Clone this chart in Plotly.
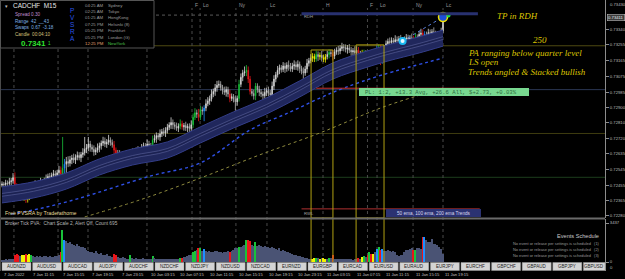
import plotly.graph_objects as go

W, H = 625, 279
SANS = "Liberation Sans, Arial, sans-serif"
SERIF = "Liberation Serif, Times New Roman, serif"
MONO = "Liberation Mono, Courier New, monospace"

# ------------------------------------------------------------------ data
PT = 1e5  # prices are stored in points (1 point = 0.00001)
first_open = 72455
close_pts = [
    72462, 72458, 72468, 72464, 72475, 72480, 72498, 72452, 72418, 72395,
    72385, 72398, 72388, 72372, 72392, 72405, 72432, 72445, 72458, 72450,
    72466, 72475, 72464, 72480, 72490, 72505, 72498, 72512, 72520, 72510,
    72526, 72540, 72518, 72552, 72575, 72590, 72580, 72600, 72610, 72598,
    72615, 72625, 72612, 72630, 72640, 72660, 72668, 72690, 72672, 72660,
    72645, 72655, 72668, 72680, 72695, 72705, 72690, 72700, 72712, 72698,
    72685, 72655, 72638, 72630, 72618, 72625, 72605, 72590, 72612, 72620,
    72640, 72628, 72645, 72652, 72640, 72655, 72668, 72680, 72672, 72690,
    72680, 72675, 72712, 72722, 72738, 72730, 72748, 72760, 72752, 72768,
    72785, 72798, 72812, 72800, 72790, 72780, 72792, 72805, 72788, 72795,
    72782, 72790, 72778, 72800, 72842, 72868, 72860, 72845, 72885, 72878,
    72895, 72920, 72935, 72948, 72975, 72990, 73010, 73025, 73030, 73012,
    72995, 72985, 73000, 72975, 72950, 72960, 72945, 72930, 72950, 73030,
    73070, 73095, 73102, 73110, 73060, 72990, 72978, 72965, 73020, 73000,
    72985, 72975, 72965, 72985, 72995, 72980, 72970, 73020, 73060, 73085,
    73110, 73125, 73115, 73135, 73120, 73140, 73130, 73118, 73135, 73142,
    73130, 73145, 73120, 73105, 73095, 73118, 73150, 73165, 73180, 73190,
    73175, 73200, 73188, 73196, 73182, 73172, 73188, 73200, 73212, 73205,
    73192, 73215, 73225, 73220, 73235, 73245, 73240, 73230, 73238, 73225,
    73215, 73222, 73210, 73225, 73200, 73205, 73190, 73210, 73195, 73160,
    73190, 73165, 73180, 73195, 73225, 73235, 73170, 73200, 73232, 73262,
    73275, 73268, 73280, 73272, 73285, 73278, 73290, 73282, 73275, 73288,
    73295, 73288, 73295, 73290, 73270, 73300, 73298, 73315, 73322, 73285,
    73315, 73310, 73325, 73315, 73330, 73318, 73305, 73312, 73300, 73335,
    73411,
]
wick_up = [
    15, 12, 18, 14, 22, 16, 26, 30, 14, 18, 12, 22, 16, 12, 18, 22, 15, 18, 25, 12,
    16, 22, 15, 18, 26, 16, 20, 15, 22, 18, 16, 25, 22, 178, 30, 26, 30, 22, 18, 25,
    16, 22, 18, 15, 26, 70, 22, 40, 18, 15, 22, 16, 25, 18, 15, 26, 22, 18, 30, 16,
    18, 22, 15, 18, 25, 16, 20, 15, 22, 18, 16, 25, 15, 18, 26, 16, 22, 18, 15, 25,
    18, 16, 26, 22, 18, 15, 25, 16, 22, 18, 20, 16, 30, 18, 15, 22, 16, 25, 18, 15,
    22, 16, 18, 25, 22, 26, 18, 30, 22, 18, 16, 25, 22, 18, 26, 16, 22, 25, 22, 18,
    15, 22, 18, 16, 25, 18, 15, 22, 16, 26, 22, 18, 30, 30, 22, 18, 15, 22, 18, 16,
    22, 18, 15, 25, 16, 22, 18, 26, 22, 16, 25, 18, 15, 22, 18, 16, 26, 22, 18, 25,
    18, 22, 15, 16, 22, 18, 25, 16, 22, 18, 15, 22, 18, 16, 25, 18, 15, 22, 18, 16,
    22, 18, 16, 25, 18, 22, 15, 18, 16, 22, 18, 15, 25, 22, 18, 16, 22, 18, 15, 25,
    18, 22, 16, 18, 26, 22, 18, 25, 22, 18, 16, 22, 18, 15, 25, 18, 16, 22, 18, 15,
    22, 18, 16, 25, 18, 22, 15, 18, 25, 22, 18, 16, 22, 18, 15, 25, 18, 22, 16, 18,
    14,
]
wick_dn = [
    12, 16, 12, 18, 15, 22, 16, 18, 25, 22, 18, 15, 22, 18, 16, 22, 15, 18, 16, 22,
    18, 15, 22, 16, 18, 25, 15, 22, 18, 16, 22, 18, 25, 22, 30, 90, 22, 18, 25, 16,
    22, 18, 15, 25, 18, 16, 22, 18, 26, 16, 22, 18, 15, 25, 22, 16, 18, 22, 15, 18,
    16, 22, 18, 25, 22, 16, 18, 30, 22, 16, 18, 25, 15, 22, 18, 16, 22, 15, 18, 25,
    50, 22, 18, 15, 25, 16, 22, 18, 15, 22, 18, 16, 22, 25, 18, 15, 22, 18, 16, 22,
    18, 25, 22, 16, 18, 15, 22, 25, 18, 22, 58, 18, 15, 22, 16, 18, 25, 22, 15, 18,
    22, 16, 25, 18, 22, 15, 18, 50, 22, 18, 16, 22, 18, 25, 22, 18, 16, 22, 25, 18,
    22, 18, 35, 16, 22, 18, 25, 15, 22, 18, 16, 22, 18, 15, 25, 18, 22, 16, 18, 22,
    18, 22, 25, 18, 55, 16, 22, 18, 15, 22, 18, 16, 25, 18, 22, 15, 18, 16, 22, 18,
    25, 18, 16, 22, 18, 15, 22, 18, 25, 16, 22, 18, 15, 22, 18, 25, 16, 22, 18, 26,
    22, 18, 16, 25, 22, 18, 30, 22, 18, 16, 22, 18, 15, 25, 18, 22, 16, 18, 22, 15,
    18, 22, 16, 25, 22, 18, 15, 22, 18, 25, 16, 22, 18, 15, 22, 18, 25, 16, 22, 18,
    12,
]
volume = [
    220, 180, 250, 200, 260, 240, 300, 620, 700, 650, 520, 600, 640, 700, 620, 680, 600, 520, 480, 500,
    460, 520, 480, 540, 500, 470, 520, 480, 450, 500, 540, 580, 900, 2800, 1950, 1850, 1700, 1750, 1600, 1500,
    1450, 1550, 1400, 1300, 1350, 1200, 1100, 1000, 900, 850, 800, 950, 750, 700, 780, 650, 600, 680, 550, 520,
    480, 720, 650, 420, 380, 350, 400, 330, 300, 280, 600, 320, 300, 350, 280, 260, 300, 320, 280, 250,
    300, 270, 500, 320, 300, 280, 260, 300, 280, 250, 270, 300, 280, 260, 240, 280, 260, 350, 320, 400,
    450, 500, 600, 650, 900, 1000, 1100, 1250, 1250, 1000, 1150, 950, 900, 1000, 850, 900, 950, 1000, 900, 850,
    800, 900, 850, 950, 900, 1000, 1100, 1200, 1250, 1350, 1300, 1450, 1500, 1950, 1900, 1850, 1500, 1400, 1750, 1450,
    1500, 1400, 1350, 1450, 1300, 1350, 1250, 1300, 1200, 1150, 1100, 1200, 1000, 1050, 950, 900, 850, 800, 700, 650,
    600, 550, 500, 450, 400, 380, 350, 300, 280, 300, 320, 350, 330, 300, 340, 320, 300, 280, 380, 320,
    620, 300, 280, 250, 260, 240, 280, 250, 230, 260, 240, 220, 250, 250, 350, 300, 400, 550, 400, 600,
    880, 700, 700, 900, 1150, 1300, 1050, 1150, 1000, 950, 1050, 1000, 900, 950, 850, 600, 550, 580, 600, 900,
    1050, 1100, 1150, 1200, 1100, 1100, 1200, 1250, 1150, 2200, 2200, 1900, 1760, 1800, 2050, 1600, 1550, 1470, 1300, 1170,
    730,
]
red_bars = [7, 8, 9, 13, 32, 61, 62, 98, 107, 124, 134, 135, 180, 194, 199, 201, 206, 224, 229]
green_bars = [16, 33, 70, 82, 97, 104, 105, 108, 129, 133, 138, 171, 178, 197, 200, 205, 225]
blue_bars = [34, 110, 204, 207, 230]
yellow_bars = [11, 12, 14, 15, 169, 170, 173, 175, 176, 196, 202]

ema50_bars = [0, 17, 35, 53, 71, 90, 108, 126, 144, 162, 180, 199, 210, 227, 240]
ema50_mid = [72400, 72428, 72479, 72559, 72616, 72656, 72742, 72827, 72907, 73004, 73106, 73175, 73209, 73255, 73294]
ema50_upper = [72446, 72474, 72525, 72605, 72662, 72702, 72788, 72873, 72953, 73050, 73152, 73221, 73255, 73301, 73340]
ema50_lower = [72354, 72382, 72433, 72513, 72570, 72610, 72696, 72781, 72861, 72958, 73060, 73129, 73163, 73209, 73248]
ema100_bars = [5, 22, 41, 81, 108, 135, 157, 173, 186, 207, 240]
ema100 = [72290, 72325, 72377, 72508, 72582, 72770, 72873, 72952, 73009, 73084, 73180]
ema200_bars = [45, 75, 108, 140, 173, 206, 231, 240]
ema200 = [72274, 72371, 72496, 72627, 72753, 72895, 72981, 73009]

quarter_levels = [0.7325, 0.7300, 0.7275, 0.7250]
prev_high_level = 0.73425
rdh_level = 0.73432
pl_level = 0.73008
rwl_level = 0.72320
box_bars = [(168.2, 180.1), (192.7, 207.9)]
box_tops = [0.73226, 0.73255]
signal_bars = [218, 240, 243]
signal_prices = [0.73277, 0.73414, 0.73422]

price_ticks = [0.73340, 0.73255, 0.73165, 0.73075, 0.72985, 0.72900, 0.72810,
               0.72720, 0.72635, 0.72545, 0.72455, 0.72365, 0.72280]
current_price = 0.73411
vol_max_label = 3437
time_label_bars = list(range(0, 241, 16))
time_labels = ["7 Jan 2022", "7 Jan 11:15", "7 Jan 15:15", "7 Jan 19:15", "7 Jan 23:15",
               "10 Jan 03:15", "10 Jan 07:15", "10 Jan 11:15", "10 Jan 15:15", "10 Jan 19:15",
               "10 Jan 23:15", "11 Jan 03:15", "11 Jan 07:15", "11 Jan 11:15", "11 Jan 15:15",
               "11 Jan 19:15"]
session_bars = [6.5, 30.5, 46.8, 78.9, 103.4, 107.8, 127.3, 144.2, 174.7, 198.9, 204.1, 223.7, 240.0]
session_names = ["", "", "", "", "F", "Lo", "Ny", "Lc", "H", "F", "Lo", "Ny", "Lc"]
pairs = ["AUDNZD", "AUDUSD", "AUDCAD", "AUDJPY", "AUDCHF", "NZDCHF", "NZDJPY", "NZDUSD",
         "NZDCAD", "EURNZD", "EURGBP", "EURCAD", "EURUSD", "EURAUD", "EURJPY", "EURCHF",
         "GBPCHF", "GBPAUD", "GBPJPY", "GBPUSD"]
clock_times = ["04:25 AM", "02:25 AM", "01:25 AM", "07:25 PM", "05:25 PM", "05:25 PM", "12:25 PM"]
clock_cities = ["Sydney", "Tokyo", "HongKong", "Helsinki (8)", "Frankfurt", "London (G)", "NewYork"]

# ------------------------------------------------------------------ helpers
def P(x):
    return x / W


def Q(y):
    return 1 - y / H


X_RANGE = [-1.0884, 328.16]
Y_RANGE = [0.72268, 0.73511]
V_RANGE = [-793, 3790]
PLOT_R = 605 / W

n = len(close_pts)
bars = list(range(n))
opens = [first_open] + close_pts[:-1]
highs = [max(o, c) + u for o, c, u in zip(opens, close_pts, wick_up)]
lows = [min(o, c) - d for o, c, d in zip(opens, close_pts, wick_dn)]
cat = ['n'] * n
for lst, code in ((red_bars, 'r'), (green_bars, 'g'), (blue_bars, 'b'), (yellow_bars, 'y')):
    for i in lst:
        cat[i] = code
PV_COL = {'r': '#e8161b', 'g': '#19c23a', 'b': '#1f8fff', 'y': '#f2f200'}
VOL_DEFAULT = '#4a5374'

fig = go.Figure()

# EMA 50 band
fig.add_trace(go.Scatter(x=ema50_bars, y=[v / PT for v in ema50_upper], mode='lines',
                         line=dict(color='#333d88', width=1, shape='spline'),
                         hoverinfo='skip', showlegend=False))
fig.add_trace(go.Scatter(x=ema50_bars, y=[v / PT for v in ema50_lower], mode='lines',
                         line=dict(color='#333d88', width=1, shape='spline'),
                         fill='tonexty', fillcolor='#20275c', hoverinfo='skip', showlegend=False))
for off, col in ((8, '#5a6298'), (-8, '#5a6298'), (0, '#181d46')):
    fig.add_trace(go.Scatter(x=ema50_bars, y=[(v + off) / PT for v in ema50_mid], mode='lines',
                             line=dict(color=col, width=0.6, shape='spline'),
                             hoverinfo='skip', showlegend=False))
# EMA 100 / 200 dotted
fig.add_trace(go.Scatter(x=ema100_bars, y=[v / PT for v in ema100], mode='lines',
                         line=dict(color='#2f50e6', width=1.4, dash='dot', shape='spline'),
                         hoverinfo='skip', showlegend=False))
fig.add_trace(go.Scatter(x=ema200_bars, y=[v / PT for v in ema200], mode='lines',
                         line=dict(color='#8e8a3e', width=1, dash='dot', shape='spline'),
                         hoverinfo='skip', showlegend=False))

# candles
def candle_trace(code, inc_line, inc_fill, dec_line, dec_fill):
    idx = [i for i in bars if cat[i] == code]
    return go.Candlestick(
        x=idx, open=[opens[i] / PT for i in idx], high=[highs[i] / PT for i in idx],
        low=[lows[i] / PT for i in idx], close=[close_pts[i] / PT for i in idx],
        increasing=dict(line=dict(color=inc_line, width=0.8), fillcolor=inc_fill),
        decreasing=dict(line=dict(color=dec_line, width=0.8), fillcolor=dec_fill),
        whiskerwidth=0, hoverinfo='skip', showlegend=False)


fig.add_trace(candle_trace('n', '#dadada', '#c8c8c8', '#b4b4b4', '#6a6a6a'))
for code, col in PV_COL.items():
    fig.add_trace(candle_trace(code, col, col, col, col))

# signals
fig.add_trace(go.Scatter(x=signal_bars[:2], y=signal_prices[:2], mode='lines',
                         line=dict(color='#5a80d8', width=1, dash='dot'),
                         hoverinfo='skip', showlegend=False))
fig.add_trace(go.Scatter(x=[signal_bars[0]], y=[signal_prices[0]], mode='markers',
                         marker=dict(size=6, color='#e8f8ff', line=dict(color='#18b8f0', width=2)),
                         hoverinfo='skip', showlegend=False))
fig.add_trace(go.Scatter(x=[signal_bars[1]], y=[signal_prices[1]], mode='markers',
                         marker=dict(size=9, color='#1d4ed8', line=dict(color='#f0e000', width=1.5)),
                         hoverinfo='skip', showlegend=False))
fig.add_trace(go.Scatter(x=[signal_bars[2]], y=[signal_prices[2]], mode='markers',
                         marker=dict(size=4, color='#22dd44'),
                         hoverinfo='skip', showlegend=False))

# volume
fig.add_trace(go.Bar(x=bars, y=volume, xaxis='x2', yaxis='y2', width=0.72,
                     marker=dict(color=[PV_COL.get(c, VOL_DEFAULT) for c in cat], line=dict(width=0)),
                     hoverinfo='skip', showlegend=False))

# ------------------------------------------------------------------ shapes
shapes = []
q_cols = ['#4e4a12', '#2a3552', '#3e3c10', '#1c3c1c']
for lvl, col in zip(quarter_levels, q_cols):
    shapes.append(dict(type='line', xref='paper', yref='y', x0=0, x1=PLOT_R, y0=lvl, y1=lvl,
                       line=dict(color=col, width=1), layer='below'))
shapes.append(dict(type='line', xref='x', yref='y', x0=X_RANGE[0], x1=163, y0=prev_high_level,
                   y1=prev_high_level, line=dict(color='#5a5a5a', width=1, dash='dot'), layer='below'))
shapes.append(dict(type='line', xref='x', yref='y', x0=163, x1=259, y0=rdh_level, y1=rdh_level,
                   line=dict(color='#283170', width=3)))
shapes.append(dict(type='line', xref='x', yref='y', x0=171, x1=260, y0=pl_level, y1=pl_level,
                   line=dict(color='#cc3333', width=1)))
shapes.append(dict(type='line', xref='x', yref='y', x0=163, x1=260, y0=rwl_level, y1=rwl_level,
                   line=dict(color='#b03030', width=1)))
for (b0, b1), top in zip(box_bars, box_tops):
    shapes.append(dict(type='rect', xref='x', yref='y', x0=b0, x1=b1, y0=Y_RANGE[0], y1=top,
                       line=dict(color='#b0a012', width=1)))
    for bx in (b0, b1):
        shapes.append(dict(type='line', xref='x2', yref='y2', x0=bx, x1=bx, y0=0, y1=V_RANGE[1],
                           line=dict(color='#b0a012', width=1)))
for sb in session_bars:
    shapes.append(dict(type='line', xref='x', yref='paper', x0=sb, x1=sb, y0=Q(262), y1=Q(8),
                       line=dict(color='#4a4a4a', width=1, dash='dot'), layer='below'))
# separator between panes and left frame
shapes.append(dict(type='line', xref='paper', yref='paper', x0=0, x1=PLOT_R, y0=Q(218.5), y1=Q(218.5),
                   line=dict(color='#6a6a6a', width=2)))
shapes.append(dict(type='line', xref='paper', yref='paper', x0=P(0.5), x1=P(0.5), y0=Q(271), y1=1,
                   line=dict(color='#4a4a4a', width=1)))
# info panel
shapes.append(dict(type='rect', xref='paper', yref='paper', x0=P(0.5), x1=P(154), y0=Q(48), y1=Q(0.5),
                   fillcolor='#000000', line=dict(color='#555555', width=1)))
# labels boxes
shapes.append(dict(type='rect', xref='paper', yref='paper', x0=P(359), x1=P(529), y0=Q(96), y1=Q(88),
                   fillcolor='#78d890', line=dict(width=0)))
shapes.append(dict(type='rect', xref='paper', yref='paper', x0=P(386), x1=P(481), y0=Q(217), y1=Q(209),
                   fillcolor='#2b3272', line=dict(width=0)))
# pair buttons
for i, name in enumerate(pairs):
    x0 = 2 + 30.6 * i
    x1 = min(x0 + 29, 605)
    shapes.append(dict(type='rect', xref='paper', yref='paper', x0=P(x0), x1=P(x1), y0=Q(270.5), y1=Q(262.5),
                       fillcolor='#d4d4d4', line=dict(color='#9a9a9a', width=0.5)))

# ------------------------------------------------------------------ annotations
ann = []


def txt(x, y, s, size, color, anchor='left', family=SANS, **kw):
    ann.append(dict(x=P(x), y=Q(y), xref='paper', yref='paper', text=s, showarrow=False,
                    xanchor=anchor, yanchor='middle', font=dict(size=size, color=color, family=family),
                    **kw))


# info panel contents
txt(3, 6, '▾', 5, '#c0c0c0')
txt(11, 6, 'CADCHF  M15', 6.5, '#e6e6e6')
txt(13, 15, 'Spread 0.30', 4.6, '#c08fd0')
txt(13, 21.5, 'Range  42  __43', 4.6, '#7fb0e6')
txt(13, 27.5, 'Swaps  0.67  -3.18', 4.6, '#7fb0e6')
txt(13, 34, 'Candle  00:04:10', 4.6, '#d8c07c')
txt(19, 43, '<b>0.7341</b>', 8, '#2fe22f')
txt(46.5, 44, '1', 4.5, '#2fe22f')
for k, ch in enumerate('PVSRA'):
    txt(72, 10 + 7.2 * k, ch, 6.5, '#2a56e8', anchor='center')
clock_y = [5.3, 11.7, 17.8, 24.1, 30.4, 37, 43.3]
for k, (t, c) in enumerate(zip(clock_times, clock_cities)):
    last = k == len(clock_times) - 1
    txt(83, clock_y[k], t, 4.3, '#e0a070' if last else '#9c9c9c')
    txt(106, clock_y[k], c, 4.3, '#4cc24c' if last else '#9c9c9c')

# session labels
for sb, nm in zip(session_bars, session_names):
    if nm:
        ann.append(dict(x=sb, y=Q(5), xref='x', yref='paper', text=nm, showarrow=False,
                        xanchor='left', yanchor='middle', xshift=1,
                        font=dict(size=5, color='#9a9a9a', family=SANS)))

# level labels
ann.append(dict(x=163.5, y=0.73418, xref='x', yref='y', text='RDH', showarrow=False, xanchor='left',
                yanchor='middle', font=dict(size=4.2, color='#a0a0a0', family=SANS)))
ann.append(dict(x=163.5, y=0.72296, xref='x', yref='y', text='RWL', showarrow=False, xanchor='left',
                yanchor='middle', font=dict(size=4.2, color='#a0a0a0', family=SANS)))
txt(363, 92, 'PL: 1:2, +13.3 Avg, +26.6 All, $+2.73, +0.03%', 5.6, '#2e6e40', family=MONO)
txt(433.5, 213, '50 ema, 100 ema, 200 ema Trends', 4.7, '#d8d8ee', anchor='center')

# comments
YEL = '#dcc400'
txt(517, 16, '<i>TP in RDH</i>', 9, YEL, anchor='center', family=SERIF)
txt(540, 40, '<i>250</i>', 9, YEL, anchor='center', family=SERIF)
txt(466, 53, '<i>PA ranging below quarter level</i>', 9, YEL, family=SERIF)
txt(466, 62.5, '<i>LS open</i>', 9, YEL, family=SERIF)
txt(466, 72, '<i>Trends angled &amp; Stacked bullish</i>', 9, YEL, family=SERIF)

# price axis extras
txt(608, 4, '0.73430', 4.2, '#bdbdbd')
ann.append(dict(x=P(606.5), y=current_price, xref='paper', yref='y', text='0.73411', showarrow=False,
                xanchor='left', yanchor='middle', bgcolor='#3c3c3c', bordercolor='#b8b8b8',
                borderwidth=0.6, borderpad=0.5, font=dict(size=4.2, color='#f0f0f0', family=SANS)))
txt(608, 267, '0', 4.2, '#bdbdbd')

# lower pane texts
txt(3, 213, 'Free PVSRA by Traderathome', 5.3, '#e6dc9a')
txt(3, 223.5, 'Broker Tick PVA:  Chart Scale 2, Alert Off, Count 695', 4.8, '#b4b4b4')
txt(601, 236, 'Events Schedule', 5.6, '#c8c8c8', anchor='right')
for k in range(3):
    txt(602, 243 + 6 * k, 'No event or release per settings is scheduled   (%d)' % (k + 1), 3.9,
        '#9a9a9a', anchor='right')
for i, name in enumerate(pairs):
    x0 = 2 + 30.6 * i
    x1 = min(x0 + 29, 605)
    txt((x0 + x1) / 2, 266.7, name, 4.5, '#1c1c1c', anchor='center')

# time labels
for b, lab in zip(time_label_bars, time_labels):
    ann.append(dict(x=b, y=Q(274.5), xref='x2', yref='paper', text=lab, showarrow=False,
                    xanchor='left', yanchor='middle', font=dict(size=4.1, color='#c4c4c4', family=SANS)))

# ------------------------------------------------------------------ layout
axis_common = dict(showgrid=False, zeroline=False)
fig.update_layout(
    width=W, height=H, margin=dict(l=0, r=0, t=0, b=0), template='none',
    paper_bgcolor='#000000', plot_bgcolor='#000000', hovermode=False, showlegend=False,
    bargap=0, boxgap=0.45,
    xaxis=dict(domain=[0, PLOT_R], range=X_RANGE, anchor='y', showticklabels=False,
               rangeslider=dict(visible=False), fixedrange=True, **axis_common),
    yaxis=dict(domain=[Q(218), 1], range=Y_RANGE, anchor='x', side='right',
               showline=True, linecolor='#8c8c8c', linewidth=1, ticks='outside', ticklen=3,
               tickcolor='#8c8c8c', tickvals=price_ticks, ticktext=['%.5f' % v for v in price_ticks],
               tickfont=dict(size=4.2, color='#bdbdbd', family=SANS), automargin=False, **axis_common),
    xaxis2=dict(domain=[0, PLOT_R], range=X_RANGE, anchor='y2', matches='x', showticklabels=False,
                rangeslider=dict(visible=False), **axis_common),
    yaxis2=dict(domain=[Q(271), Q(219)], range=V_RANGE, anchor='x2', side='right',
                showline=True, linecolor='#8c8c8c', linewidth=1, ticks='outside', ticklen=3,
                tickcolor='#8c8c8c', tickvals=[vol_max_label, 0], ticktext=[str(vol_max_label), '0'],
                tickfont=dict(size=4.2, color='#bdbdbd', family=SANS), automargin=False, **axis_common),
    shapes=shapes, annotations=ann,
)

fig.write_html("out.html", config={'displayModeBar': False})
